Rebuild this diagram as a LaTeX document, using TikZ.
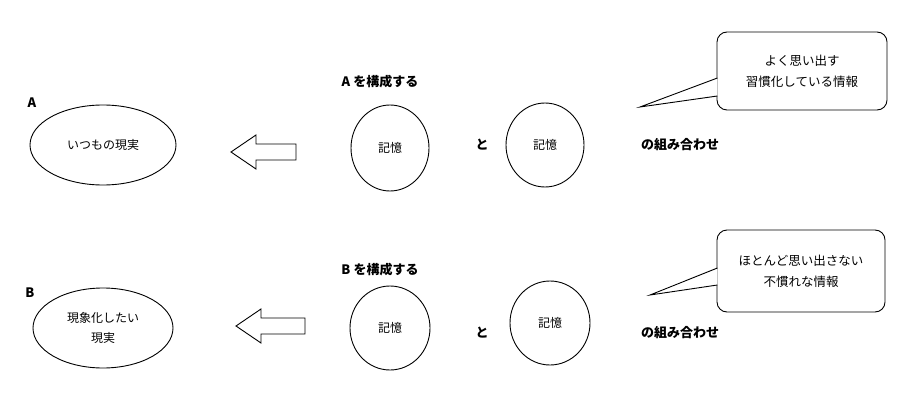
\documentclass[tikz,border=0pt]{standalone}
\usepackage{fontspec}
\setmainfont{Noto Sans CJK JP}
\usetikzlibrary{shapes.geometric}
\tikzset{
  reality/.style={ellipse, draw, minimum width=146pt, minimum height=80pt, align=center, font=\fontsize{12}{20}\selectfont},
  memory/.style={ellipse, draw, minimum width=78pt, minimum height=86pt, font=\fontsize{12}{14}\selectfont},
  title/.style={font=\bfseries\fontsize{13}{15}\selectfont},
  bubble/.style={draw, rounded corners=10pt, fill=white, align=center, font=\fontsize{12.5}{21}\selectfont}
}
\newcommand{\hollowarrow}[3]{% tip x, right x, centre y
  \draw (#1,#3) -- (#1+25,#3-17) -- (#1+25,#3-8) -- (#2,#3-8) -- (#2,#3+8) -- (#1+25,#3+8) -- (#1+25,#3+17) -- cycle;}
\begin{document}
\begin{tikzpicture}[x=1pt,y=-1pt,line width=0.9pt]
            \useasboundingbox (0,0) rectangle (923,401);
            %row A
            \node[title] (la) at (32,103) {A};
            \node[reality] (ra) at (103,145) {いつもの現実};
            \hollowarrow{231}{296}{152}
            \node[title] (ta) at (380,82) {A を構成する};
            \node[memory] (ma1) at (390,148) {記憶};
            \node[title] (ca) at (482,145) {と};
            \node[memory, minimum height=84pt] (ma2) at (545,145) {記憶};
            \node[title] (ka) at (680,145) {の組み合わせ};
            \node[bubble, minimum width=170pt, minimum height=78pt] (sa) at (802,71) {よく思い出す\\習慣化している情報};
            \coordinate (pa) at (640,107);
            \filldraw[fill=white] (717.4,78) -- (pa) -- (717.4,96);
            \fill[white] (718.4,77) rectangle (720,97);

            %row B
            \node[title] (lb) at (30,293) {B};
            \node[reality, minimum width=140pt] (rb) at (103,328) {現象化したい\\現実};
            \hollowarrow{236}{305}{326}
            \node[title] (tb) at (380,270) {B を構成する};
            \node[memory, minimum width=80pt, minimum height=84pt] (mb1) at (390,328) {記憶};
            \node[title] (cb) at (482,333) {と};
            \node[memory, minimum width=80pt, minimum height=84pt] (mb2) at (550,323) {記憶};
            \node[title] (kb) at (680,333) {の組み合わせ};
            \node[bubble, minimum width=168pt, minimum height=82pt] (sb) at (801,271) {ほとんど思い出さない\\不慣れな情報};
            \coordinate (pb) at (650,295);
            \filldraw[fill=white] (717.4,268) -- (pb) -- (717.4,285);
            \fill[white] (718.4,267) rectangle (720,286);
\end{tikzpicture}
\end{document}
